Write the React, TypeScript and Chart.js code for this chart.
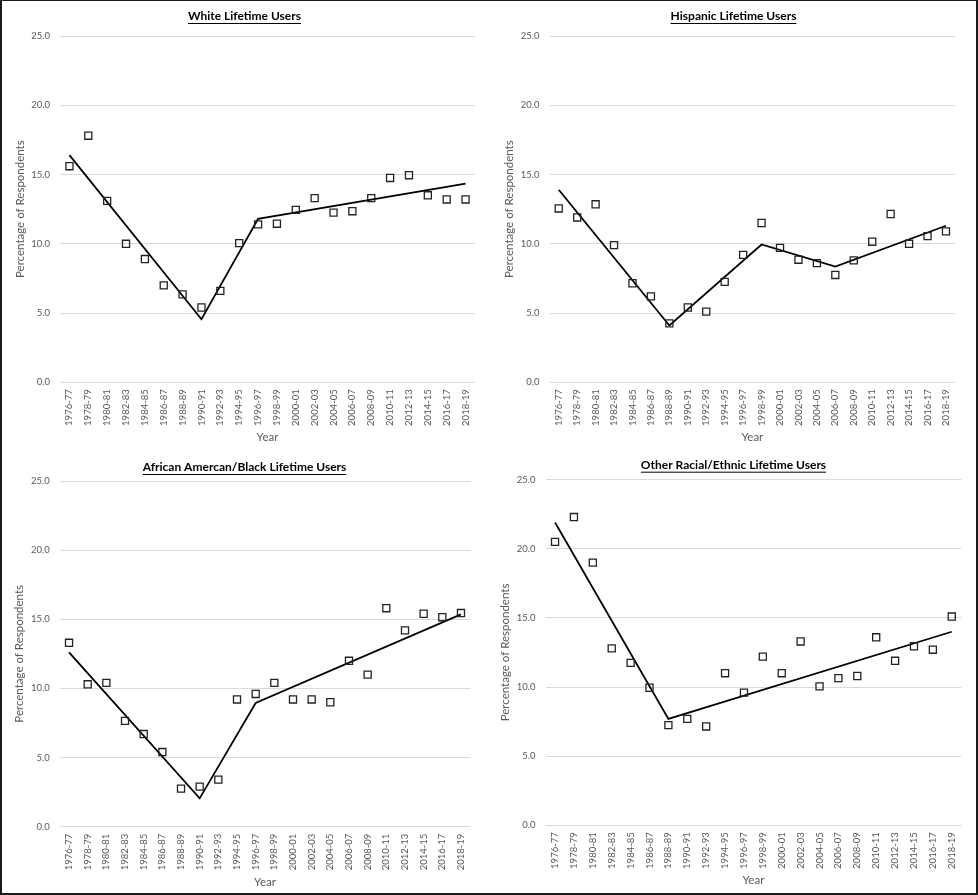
import React, { useEffect, useRef } from "react";
import { Chart, registerables } from "chart.js";

Chart.register(...registerables);

const years = [
  "1976-77", "1978-79", "1980-81", "1982-83", "1984-85", "1986-87", "1988-89",
  "1990-91", "1992-93", "1994-95", "1996-97", "1998-99", "2000-01", "2002-03",
  "2004-05", "2006-07", "2008-09", "2010-11", "2012-13", "2014-15", "2016-17", "2018-19",
];

const whiteTitle = "White Lifetime Users";
const whiteValues = [15.6, 17.8, 13.1, 10.0, 8.9, 7.0, 6.35, 5.4, 6.6, 10.05, 11.4, 11.45, 12.45, 13.3, 12.25, 12.35, 13.3, 14.75, 14.95, 13.5, 13.2, 13.2];
const whiteTrend = [16.4, null, null, null, null, null, null, 4.55, null, null, 11.8, null, null, null, null, null, null, null, null, null, null, 14.35];

const hispanicTitle = "Hispanic Lifetime Users";
const hispanicValues = [12.55, 11.9, 12.85, 9.9, 7.15, 6.2, 4.25, 5.4, 5.1, 7.25, 9.2, 11.5, 9.7, 8.85, 8.6, 7.75, 8.8, 10.15, 12.15, 10.0, 10.55, 10.9];
const hispanicTrend = [13.9, null, null, null, null, null, 4.1, null, null, null, null, 9.95, null, null, null, 8.35, null, null, null, null, null, 11.3];

const blackTitle = "African Amercan/Black Lifetime Users";
const blackValues = [13.3, 10.3, 10.4, 7.65, 6.7, 5.4, 2.75, 2.9, 3.4, 9.2, 9.6, 10.4, 9.2, 9.2, 9.0, 12.0, 11.0, 15.8, 14.2, 15.4, 15.15, 15.45];
const blackTrend = [12.6, null, null, null, null, null, null, 2.05, null, null, 8.95, null, null, null, null, null, null, null, null, null, null, 15.35];

const otherTitle = "Other Racial/Ethnic Lifetime Users";
const otherValues = [20.5, 22.3, 19.0, 12.8, 11.75, 9.95, 7.25, 7.7, 7.15, 11.0, 9.6, 12.2, 11.0, 13.3, 10.05, 10.65, 10.8, 13.6, 11.9, 12.95, 12.7, 15.1];
const otherTrend = [21.9, null, null, null, null, null, 7.7, null, null, null, null, null, null, null, null, null, null, null, null, null, null, 14.0];

const yTicks = [0, 5, 10, 15, 20, 25];

const FONT = "Lato, 'Open Sans', sans-serif";
const GRAY = "#595959";

type Layout = {
  left: number; right: number; top: number; bottom: number;
  titleY: number; yTitleX: number; yearY: number;
};

const PW = 489;
const PH = 447;

function Panel(props: {
  title: string; values: number[]; trend: (number | null)[];
  x: number; y: number; lay: Layout;
}) {
  const ref = useRef<HTMLCanvasElement>(null);
  useEffect(() => {
    const { lay, title } = props;
    const titlePlugin = {
      id: "underlinedTitle",
      afterDraw(chart: any) {
        const ctx = chart.ctx;
        ctx.save();
        ctx.font = `bold 12px ${FONT}`;
        ctx.fillStyle = "#000";
        ctx.textAlign = "center";
        ctx.textBaseline = "middle";
        const cx = chart.width / 2;
        ctx.fillText(title, cx, lay.titleY);
        const w = ctx.measureText(title).width;
        ctx.strokeStyle = "#000";
        ctx.lineWidth = 1;
        ctx.beginPath();
        ctx.moveTo(cx - w / 2, lay.titleY + 7.5);
        ctx.lineTo(cx + w / 2, lay.titleY + 7.5);
        ctx.stroke();
        ctx.restore();
      },
    };
    const yTitleFont = 11.5;
    const chart = new Chart(ref.current!, {
      type: "line",
      data: {
        labels: years,
        datasets: [
          {
            data: props.trend as any,
            borderColor: "#000",
            borderWidth: 1.8,
            pointRadius: 0,
            spanGaps: true,
            fill: false,
            tension: 0,
            order: 2,
          },
          {
            data: props.values,
            showLine: false,
            pointStyle: "rect",
            pointRadius: 5,
            pointBorderWidth: 1.3,
            pointBorderColor: "#222",
            pointBackgroundColor: "rgba(255,255,255,0)",
            borderColor: "#222",
            order: 1,
          },
        ],
      },
      options: {
        animation: false,
        responsive: false,
        maintainAspectRatio: false,
        events: [],
        layout: {
          padding: { left: 0, top: lay.top, right: PW - lay.right, bottom: 0 },
        },
        plugins: {
          legend: { display: false },
          tooltip: { enabled: false },
          title: { display: false },
        },
        scales: {
          x: {
            type: "category",
            offset: true,
            grid: { display: false, drawTicks: false },
            border: { display: false },
            ticks: {
              autoSkip: false,
              minRotation: 90,
              maxRotation: 90,
              padding: 7,
              color: GRAY,
              font: { family: FONT, size: 9.5 },
            },
            title: {
              display: true,
              text: "Year",
              color: GRAY,
              font: { family: FONT, size: 11.5 },
              padding: { top: 0, bottom: PH - lay.yearY - (yTitleFont * 1.2) / 2 },
            },
            afterFit(scale: any) {
              scale.height = PH - lay.bottom;
            },
          },
          y: {
            min: 0,
            max: 25,
            afterBuildTicks(scale: any) {
              scale.ticks = yTicks.map((v) => ({ value: v }));
            },
            grid: { color: "#d9d9d9", lineWidth: 1, drawTicks: false },
            border: { display: false },
            ticks: {
              padding: 10,
              color: GRAY,
              font: { family: FONT, size: 9.5 },
              callback: (v: any) => Number(v).toFixed(1),
            },
            title: {
              display: true,
              text: "Percentage of Respondents",
              color: GRAY,
              font: { family: FONT, size: yTitleFont },
              padding: { top: lay.yTitleX - (yTitleFont * 1.2) / 2, bottom: 0 },
            },
            afterFit(scale: any) {
              scale.width = lay.left;
            },
          },
        },
      },
      plugins: [titlePlugin],
    });
    return () => chart.destroy();
  }, []);
  return (
    <canvas
      ref={ref}
      width={PW}
      height={PH}
      style={{ position: "absolute", left: props.x, top: props.y, width: PW, height: PH }}
    />
  );
}

export default function App() {
  useEffect(() => {
    document.body.style.margin = "0";
  }, []);
  return (
    <div style={{ position: "absolute", left: 0, top: 0, width: 978, height: 895, background: "#fff" }}>
      <Panel title={whiteTitle} values={whiteValues} trend={whiteTrend} x={0} y={0}
        lay={{ left: 60, right: 475, top: 36, bottom: 382.3, titleY: 16, yTitleX: 20.7, yearY: 437 }} />
      <Panel title={hispanicTitle} values={hispanicValues} trend={hispanicTrend} x={489} y={0}
        lay={{ left: 60.5, right: 466.2, top: 36, bottom: 382.3, titleY: 16, yTitleX: 20.7, yearY: 437 }} />
      <Panel title={blackTitle} values={blackValues} trend={blackTrend} x={0} y={448}
        lay={{ left: 59.7, right: 470.3, top: 33, bottom: 378.7, titleY: 19, yTitleX: 19.3, yearY: 434 }} />
      <Panel title={otherTitle} values={otherValues} trend={otherTrend} x={489} y={448}
        lay={{ left: 56.6, right: 472.2, top: 31.7, bottom: 377.3, titleY: 16.7, yTitleX: 16.7, yearY: 432.7 }} />
      <div style={{
        position: "absolute", left: 0, top: 0, width: 978, height: 895, boxSizing: "border-box",
        borderStyle: "solid", borderColor: "#1a1a1a", borderWidth: "1px 2px 2px 2px", pointerEvents: "none",
      }} />
    </div>
  );
}
